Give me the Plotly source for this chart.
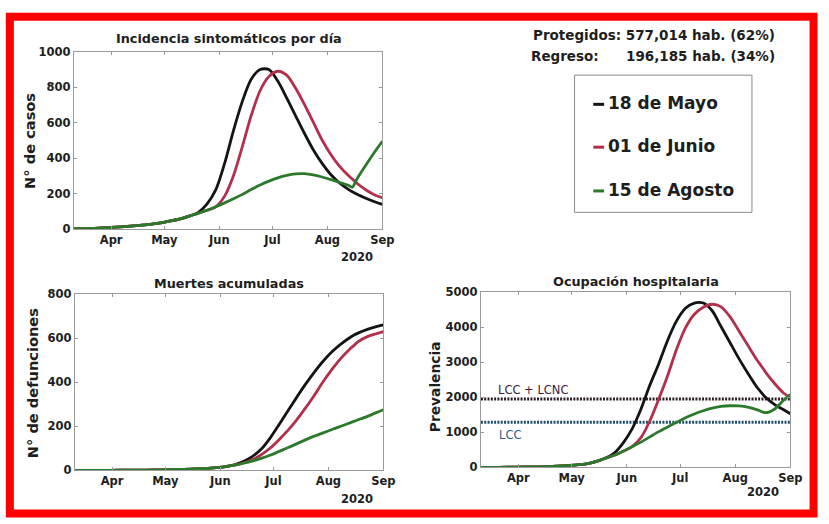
import plotly.graph_objects as go

W, H = 829, 524

# ---------------- data ----------------
dates = ["2020-03-11", "2020-03-21", "2020-03-31", "2020-04-10", "2020-04-20", "2020-04-30",
         "2020-05-05", "2020-05-10", "2020-05-15", "2020-05-20", "2020-05-25", "2020-05-30",
         "2020-06-04", "2020-06-09", "2020-06-14", "2020-06-19", "2020-06-24", "2020-06-29",
         "2020-07-04", "2020-07-09", "2020-07-14", "2020-07-19", "2020-07-24", "2020-07-29",
         "2020-08-03", "2020-08-08", "2020-08-13", "2020-08-15", "2020-08-18", "2020-08-23",
         "2020-08-28", "2020-09-01"]

series_names = ["18 de Mayo", "01 de Junio", "15 de Agosto"]

# Incidencia sintomáticos por día
inc_mayo = [1, 3, 8, 14, 23, 36, 46, 57, 72, 92, 140, 220, 370, 555, 720, 845, 900, 900,
            835, 740, 640, 540, 447, 370, 306, 258, 222, 210, 194, 172, 152, 139]
inc_junio = [1, 3, 8, 14, 23, 36, 46, 57, 72, 88, 105, 125, 185, 300, 465, 640, 780, 860,
             890, 868, 795, 703, 603, 502, 419, 352, 300, 282, 255, 218, 190, 176]
inc_agosto = [1, 3, 8, 14, 23, 36, 46, 57, 72, 88, 105, 125, 147, 170, 195, 222, 248, 270,
              288, 302, 311, 312, 305, 293, 278, 262, 245, 236, 288, 365, 440, 495]

# Muertes acumuladas
mue_mayo = [0, 0, 0, 0.5, 1, 2, 3, 4, 5, 7, 9, 12, 17, 25, 40, 62, 95, 145,
            205, 268, 330, 390, 445, 495, 538, 573, 602, 612, 624, 640, 652, 660]
mue_junio = [0, 0, 0, 0.5, 1, 2, 3, 4, 5, 7, 9, 12, 17, 23, 33, 48, 70, 100,
             138, 180, 228, 282, 340, 402, 458, 508, 550, 564, 585, 607, 620, 630]
mue_agosto = [0, 0, 0, 0.5, 1, 2, 3, 4, 5, 7, 9, 12, 17, 23, 32, 42, 54, 68,
              85, 102, 120, 138, 155, 170, 185, 200, 215, 221, 230, 245, 262, 275]

# Ocupación hospitalaria
hos_mayo = [0, 2, 6, 15, 30, 58, 80, 110, 170, 265, 410, 700, 1100, 1667, 2350, 2960, 3630, 4180,
            4540, 4690, 4690, 4470, 4020, 3565, 3110, 2690, 2300, 2176, 2000, 1800, 1650, 1530]
hos_junio = [0, 2, 6, 15, 30, 58, 80, 110, 170, 260, 345, 460, 595, 850, 1330, 1950, 2620, 3370,
             3980, 4370, 4570, 4655, 4580, 4300, 3900, 3490, 3080, 2940, 2720, 2400, 2130, 1990]
hos_agosto = [0, 2, 6, 15, 30, 58, 80, 110, 170, 260, 345, 460, 590, 720, 870, 1020, 1155, 1285,
              1415, 1525, 1615, 1690, 1740, 1758, 1752, 1720, 1650, 1610, 1560, 1660, 1910, 2080]

lcc = 1290
lcc_lcnc = 1950

month_ticks = ["2020-04-01", "2020-05-01", "2020-06-01", "2020-07-01", "2020-08-01", "2020-09-01"]
month_labels = ["Apr", "May", "Jun", "Jul", "Aug", "Sep"]
x_range = ["2020-03-11", "2020-09-01"]

# ---------------- styling ----------------
colors = ["#141414", "#b3304a", "#2b7a2b"]
FONT = "DejaVu Sans"
TXT = "#1e1e1e"


def px(x):
    return x / W


def py(y):
    return 1 - y / H


fig = go.Figure()

panels = [
    ("x", "y", [inc_mayo, inc_junio, inc_agosto]),
    ("x2", "y2", [mue_mayo, mue_junio, mue_agosto]),
    ("x3", "y3", [hos_mayo, hos_junio, hos_agosto]),
]

# threshold lines (hospital)
fig.add_trace(go.Scatter(x=x_range, y=[lcc_lcnc, lcc_lcnc], xaxis="x3", yaxis="y3", mode="lines",
                         line=dict(color="#2a1c26", width=3, dash="2px,1.3px"),
                         showlegend=False, hoverinfo="skip"))
fig.add_trace(go.Scatter(x=x_range, y=[lcc, lcc], xaxis="x3", yaxis="y3", mode="lines",
                         line=dict(color="#1f4d6b", width=3, dash="2px,1.3px"),
                         showlegend=False, hoverinfo="skip"))

for xa, ya, ser in panels:
    for name, vals, col in zip(series_names, ser, colors):
        fig.add_trace(go.Scatter(x=dates, y=vals, xaxis=xa, yaxis=ya, mode="lines", name=name,
                                 line=dict(color=col, width=2.8, shape="spline", smoothing=0.8),
                                 showlegend=False))

axis_common = dict(showline=True, mirror="ticks", linecolor="#9a9a9a", linewidth=1,
                   ticks="inside", ticklen=3, tickcolor="#9a9a9a", showgrid=False, zeroline=False,
                   tickfont=dict(family=FONT, size=11.5, color=TXT, weight="bold"))

xax = dict(axis_common, type="date", range=x_range, tickvals=month_ticks, ticktext=month_labels)

# pixel boxes of the three plot areas: (left, right, top, bottom)
boxes = [(75, 388, 46, 228), (76, 389, 295, 476), (488, 802, 293, 473)]
yranges = [[0, 1000], [0, 800], [0, 5000]]
ydticks = [200, 200, 1000]

layout = dict(width=W, height=H, margin=dict(l=0, r=0, t=0, b=0),
              paper_bgcolor="white", plot_bgcolor="white", showlegend=False,
              font=dict(family=FONT, color=TXT))
for i, ((l, r, t, b), yr, dt) in enumerate(zip(boxes, yranges, ydticks)):
    sfx = "" if i == 0 else str(i + 1)
    layout["xaxis" + sfx] = dict(xax, domain=[px(l), px(r)], anchor="y" + sfx)
    layout["yaxis" + sfx] = dict(axis_common, domain=[py(b), py(t)], range=yr, dtick=dt,
                                 anchor="x" + sfx)
fig.update_layout(**layout)

ann = []


def text(x, y, s, size=13, xanchor="center", color=TXT, bold=True, angle=0):
    ann.append(dict(x=px(x), y=py(y), xref="paper", yref="paper", text=s, showarrow=False,
                    xanchor=xanchor, yanchor="middle", textangle=angle,
                    font=dict(family=FONT, size=size, color=color,
                              weight="bold" if bold else "normal")))


# titles
text(232, 32, "Incidencia sintomáticos por día", 12.8)
text(232, 284, "Muertes acumuladas", 12.8)
text(645, 282, "Ocupación hospitalaria", 12.8)
# y titles
text(30, 138, "N° de casos", 14.6, angle=-90)
text(33, 387, "N° de defunciones", 14.6, angle=-90)
text(441, 390, "Prevalencia", 13.8, angle=-90)
# year labels
text(362, 257, "2020", 11.5)
text(362, 505, "2020", 11.5)
text(774, 498, "2020", 11.5)
# threshold labels
text(503, 394, "LCC + LCNC", 11.5, xanchor="left", color="#3c2140", bold=False)
text(504, 440, "LCC", 11.5, xanchor="left", color="#2b5e8c", bold=False)
# header
text(788, 29, "Protegidos: 577,014 hab. (62%)", 13.5, xanchor="right")
text(537, 50, "Regreso:", 13.5, xanchor="left")
text(788, 50, "196,185 hab. (34%)", 13.5, xanchor="right")
# legend
leg_y = [99, 143, 188]
for name, col, yy in zip(series_names, colors, leg_y):
    text(615, yy, name, 17, xanchor="left")
fig.update_layout(annotations=ann)

shapes = [
    dict(type="rect", xref="paper", yref="paper", x0=px(583), x1=px(763), y0=py(211), y1=py(70),
         line=dict(color="#8a8a8a", width=1), fillcolor="rgba(0,0,0,0)"),
    dict(type="rect", xref="paper", yref="paper", x0=px(10), x1=px(825.5), y0=py(520.5), y1=py(10),
         line=dict(color="#ff0000", width=8), fillcolor="rgba(0,0,0,0)"),
]
for col, yy in zip(colors, leg_y):
    shapes.append(dict(type="line", xref="paper", yref="paper", x0=px(602), x1=px(613),
                       y0=py(yy + 1), y1=py(yy + 1), line=dict(color=col, width=3)))
fig.update_layout(shapes=shapes)

post = ("document.body.style.margin='0';document.body.style.padding='0';"
        "document.body.style.overflow='hidden';")
fig.write_html("out.html", config={"displayModeBar": False}, post_script=post)
